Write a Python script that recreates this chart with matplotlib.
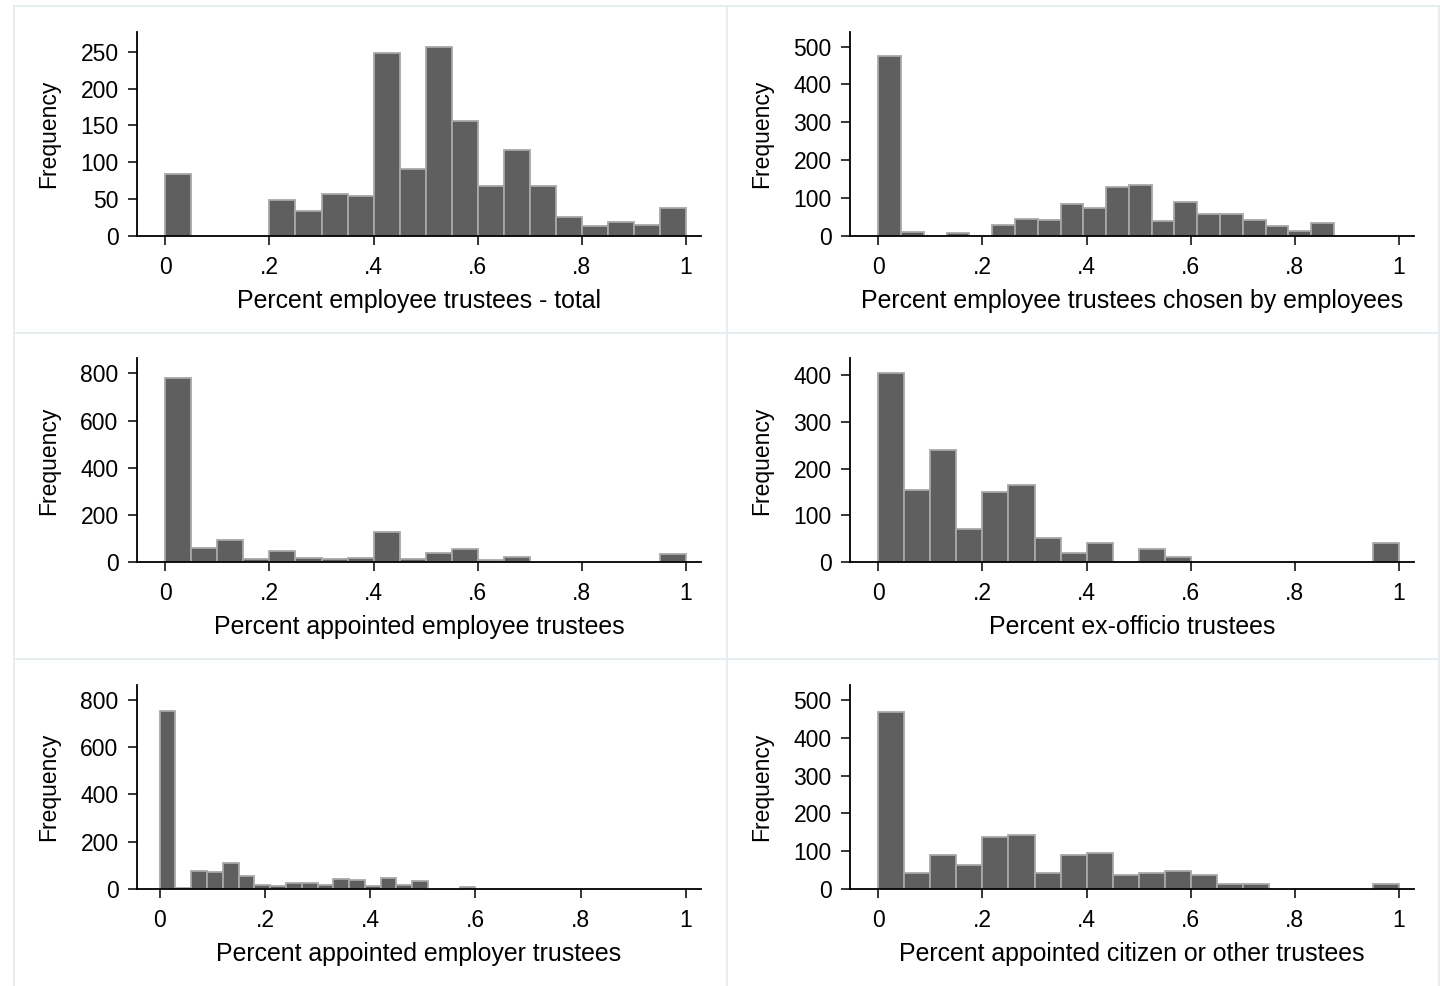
import numpy as np
import matplotlib
matplotlib.use("Agg")
import matplotlib.pyplot as plt
from matplotlib.lines import Line2D

plt.rcParams['font.family'] = ['Liberation Sans', 'DejaVu Sans']

# ---------------- data ----------------
titles = [
    "Percent employee trustees - total",
    "Percent employee trustees chosen by employees",
    "Percent appointed employee trustees",
    "Percent ex-officio trustees",
    "Percent appointed employer trustees",
    "Percent appointed citizen or other trustees",
]

bin_widths = [0.05, 0.04375, 0.05, 0.05, 0.03, 0.05]

counts_total = [84, 0, 0, 0, 48, 33, 57, 54, 248, 90, 257, 156, 68, 116, 68, 26, 13, 18, 14, 38]
counts_chosen = [476, 9, 0, 7, 0, 28, 45, 41, 83, 74, 130, 134, 40, 89, 58, 58, 42, 26, 13, 33]
counts_appt_emp = [779, 62, 96, 13, 48, 18, 13, 18, 130, 15, 39, 58, 10, 24, 0, 0, 0, 0, 0, 37]
counts_exofficio = [403, 155, 240, 71, 149, 165, 51, 21, 41, 0, 28, 12, 0, 0, 0, 0, 0, 0, 0, 41]
counts_employer = [752, 4, 78, 73, 109, 57, 18, 11, 27, 27, 18, 41, 37, 14, 45, 18, 34, 0, 0, 10]
counts_citizen = [469, 42, 89, 63, 138, 142, 42, 89, 96, 37, 42, 48, 37, 14, 14, 0, 0, 0, 0, 14]

all_counts = [counts_total, counts_chosen, counts_appt_emp,
              counts_exofficio, counts_employer, counts_citizen]

y_ticks = [
    [0, 50, 100, 150, 200, 250],
    [0, 100, 200, 300, 400, 500],
    [0, 200, 400, 600, 800],
    [0, 100, 200, 300, 400],
    [0, 200, 400, 600, 800],
    [0, 100, 200, 300, 400, 500],
]
x_ticks = [0, 0.2, 0.4, 0.6, 0.8, 1.0]
x_tick_labels = ["0", ".2", ".4", ".6", ".8", "1"]

# ---------------- layout ----------------
W, H = 1440, 986
fig = plt.figure(figsize=(W / 100, H / 100), dpi=100)
fig.patch.set_facecolor("white")

col_x = [14, 727]
row_y = [6, 332.7, 659.3]
border_col = "#e6eef1"

# panel borders
for cx in [14, 727, 1439]:
    fig.add_artist(Line2D([cx / W, cx / W], [1 - 6 / H, 1 - 986 / H],
                          color=border_col, lw=1.4, transform=fig.transFigure))
for ry in [6, 332.7, 659.3]:
    fig.add_artist(Line2D([14 / W, 1439 / W], [1 - ry / H, 1 - ry / H],
                          color=border_col, lw=1.4, transform=fig.transFigure))

fs_tick = 16.5
fs_title = 17.9
fs_ylab = 16.5
for i in range(6):
    r, c = divmod(i, 2)
    px0 = col_x[c] + 123
    py0 = row_y[r] + 25.7
    pw, ph = 564, 204
    ax = fig.add_axes([px0 / W, 1 - (py0 + ph) / H, pw / W, ph / H])
    counts = np.array(all_counts[i], dtype=float)
    bw = bin_widths[i]
    edges = np.arange(len(counts)) * bw
    mask = counts > 0
    ax.bar(edges[mask], counts[mask], width=bw, align="edge",
           color="#5f5f5f", edgecolor="#a8a8a8", linewidth=1.3, zorder=2)
    ymax = max(counts.max(), y_ticks[i][-1]) * 1.079
    ax.set_ylim(0, ymax)
    if i == 4:
        ax.set_xlim(-0.043, 1.0285)
    else:
        ax.set_xlim(-0.0544, 1.0288)
    ax.set_yticks(y_ticks[i])
    ax.set_yticklabels([str(t) for t in y_ticks[i]])
    ax.set_xticks(x_ticks)
    ax.set_xticklabels(x_tick_labels)
    for s in ["top", "right"]:
        ax.spines[s].set_visible(False)
    for s in ["left", "bottom"]:
        ax.spines[s].set_linewidth(1.3)
        ax.spines[s].set_color("black")
    ax.tick_params(axis="both", direction="out", length=6.8, width=1.1,
                   labelsize=fs_tick, colors="black")
    ax.tick_params(axis="y", pad=6.5)
    ax.tick_params(axis="x", pad=7.5)
    ax.set_facecolor("white")
    ax.set_xlabel(titles[i], fontsize=fs_title, labelpad=7.2)
    ax.set_ylabel("Frequency", fontsize=fs_ylab, labelpad=14.5)

fig.savefig("out.png", dpi=100, facecolor="white")
